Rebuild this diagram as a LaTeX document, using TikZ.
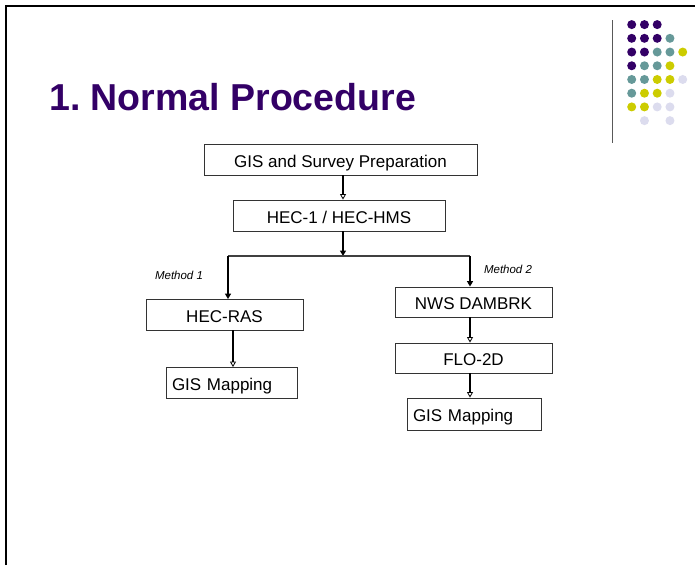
\documentclass[tikz,border=0pt]{standalone}
\usepackage{fontspec}
\setmainfont{Liberation Sans}
\usetikzlibrary{arrows.meta}
\definecolor{tpurple}{HTML}{330066}
\definecolor{tteal}{HTML}{669999}
\definecolor{tyellow}{HTML}{CCCC00}
\definecolor{tlav}{HTML}{DCDCEE}
\frenchspacing
\begin{document}
\begin{tikzpicture}[x=1pt,y=-1pt,
  box/.style={draw=black!80, line width=0.9pt, minimum height=30.5pt, inner sep=0pt, text height=15.4pt, text depth=0pt, font=\fontsize{17}{20}\selectfont},
  lbox/.style={box, align=left, inner xsep=6pt},
  conn/.style={line width=1.5pt},
  solidarrow/.style={conn, -{Triangle[length=5.5pt,width=6pt]}},
  openarrow/.style={conn, -{Triangle[open,length=5.5pt,width=6pt,line width=0.8pt]}},
  method/.style={font=\fontsize{11.5}{13}\selectfont\itshape, inner sep=0pt}]
\useasboundingbox (0,0) rectangle (695,565);
% frame
\draw[line width=2pt] (6,565) -- (6,6) -- (695,6);
% decoration
\draw[line width=1.5pt, black!65] (612.7,20) -- (612.7,143);
\foreach \c/\r/\col in {0/0/tpurple,1/0/tpurple,2/0/tpurple,
  0/1/tpurple,1/1/tpurple,2/1/tpurple,3/1/tteal,
  0/2/tpurple,1/2/tpurple,2/2/tteal,3/2/tteal,4/2/tyellow,
  0/3/tpurple,1/3/tteal,2/3/tteal,3/3/tyellow,
  0/4/tteal,1/4/tteal,2/4/tyellow,3/4/tyellow,4/4/tlav,
  0/5/tteal,1/5/tyellow,2/5/tyellow,3/5/tlav,
  0/6/tyellow,1/6/tyellow,2/6/tlav,3/6/tlav,
  1/7/tlav,3/7/tlav}
  \fill[\col] (631.7+12.75*\c, 24.6+13.72*\r) circle[radius=4.5pt];
% title
\node[anchor=base west, inner sep=0pt, text=tpurple, font=\fontsize{37.5}{40}\selectfont\bfseries] (title) at (49,110.7) {1. Normal Procedure};
% boxes
\node[box, minimum width=273pt, minimum height=31pt] (gis) at (340.5,159.5) {GIS and Survey Preparation};
\node[box, minimum width=212pt, minimum height=31pt] (hec1) at (339,215.5) {HEC-1 / HEC-HMS};
\node[box, minimum width=157pt] (hecras) at (224.5,314.75) {HEC-RAS};
\node[lbox, text width=119pt] (gisL) at (231.5,382.75) {GIS Mapping};
\node[box, minimum width=157pt, minimum height=30pt] (nws) at (473.5,302) {NWS DAMBRK};
\node[box, minimum width=157pt, minimum height=30pt] (flo) at (473.5,358) {FLO-2D};
\node[lbox, text width=122pt, minimum height=32pt] (gisR) at (474,414) {GIS Mapping};
% labels
\node[method] (m1) at (179,275) {Method 1};
\node[method] (m2) at (508,269.5) {Method 2};
% connectors
\coordinate (jm) at (343,256);
\coordinate (jl) at (228,256);
\coordinate (jr) at (470,256);
\coordinate (xl) at (233,0);
\draw[openarrow] (gis.south -| jm) -- (hec1.north -| jm);
\draw[solidarrow] (hec1.south -| jm) -- (jm);
\draw[line width=1.1pt, black!75] (jl) -- (jr);
\draw[solidarrow] (jl) -- (hecras.north -| jl);
\draw[solidarrow] (jr) -- (nws.north -| jr);
\draw[openarrow] (hecras.south -| xl) -- (gisL.north -| xl);
\draw[openarrow] (nws.south -| jr) -- (flo.north -| jr);
\draw[openarrow] (flo.south -| jr) -- (gisR.north -| jr);
\end{tikzpicture}
\end{document}
